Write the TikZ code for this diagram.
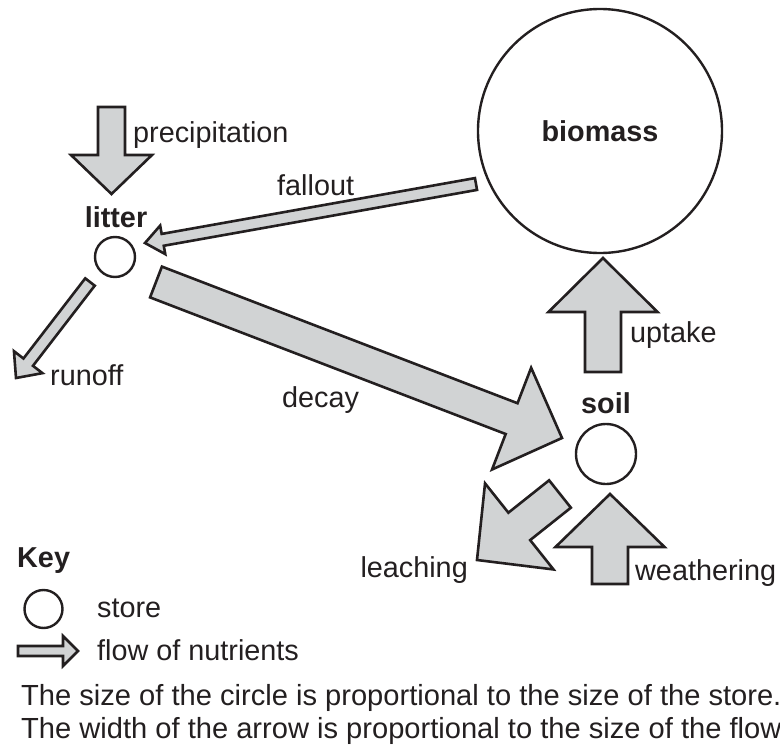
\documentclass[tikz,border=0pt]{standalone}
\usepackage{fontspec}
\setmainfont{Liberation Sans}
\usetikzlibrary{calc}
\definecolor{flowgray}{RGB}{209,211,212}
\definecolor{ink}{RGB}{35,31,32}
% #1 tail, #2 tip, #3 shaft half-width, #4 head half-width, #5 head length
\newcommand\flowarrow[5]{%
  \coordinate (fa-b) at ($(#2)!#5!(#1)$);
  \draw[flow] ($(#1)!#3!90:(#2)$) -- ($(fa-b)!#3!90:(#2)$) -- ($(fa-b)!#4!90:(#2)$)
    -- (#2) -- ($(fa-b)!#4!-90:(#2)$) -- ($(fa-b)!#3!-90:(#2)$) -- ($(#1)!#3!-90:(#2)$) -- cycle;}
\tikzset{
  flow/.style={draw=ink, fill=flowgray, line width=2.6pt, line join=miter},
  store/.style={circle, draw=ink, line width=2.4pt, inner sep=0pt, text=ink},
  lbl/.style={text=ink, inner sep=0pt, font=\fontsize{28.8}{34}\selectfont},
  blbl/.style={lbl, font=\fontsize{28.8}{34}\selectfont\bfseries},
  note/.style={text=ink, inner sep=0pt, font=\fontsize{29.1}{34}\selectfont},
}
\begin{document}
\begin{tikzpicture}[x=1pt, y=-1pt]
\useasboundingbox (0,0) rectangle (780,747);
% stores
\node[store, minimum size=40pt] (litter) at (115,257) {};
\node[store, minimum size=60pt] (soil) at (606,454) {};
\node[store, minimum size=244pt, font=\fontsize{28.8}{34}\selectfont\bfseries] (biomass) at (600,131) {biomass};
% arrow end points
\coordinate (precT) at (111.5,107);  \coordinate (precP) at (111.5,194);
\coordinate (fallT) at (476,184);    \coordinate (fallP) at (145,243);
\coordinate (runT) at (90,282);      \coordinate (runP) at (16,378);
\coordinate (decT) at (156,282);     \coordinate (decP) at (562,438);
\coordinate (upT) at (603,372);      \coordinate (upP) at (603,258);
\coordinate (weaT) at (610,584);     \coordinate (weaP) at (610,494);
\coordinate (leaT) at (560,494);     \coordinate (leaP) at (477,560);
\coordinate (keyT) at (18,651);      \coordinate (keyP) at (78,651);
% flows
\flowarrow{precT}{precP}{13.5pt}{40.5pt}{39pt}
\flowarrow{fallT}{fallP}{6pt}{14.5pt}{18pt}
\flowarrow{runT}{runP}{6pt}{18pt}{20pt}
\flowarrow{decT}{decP}{16.5pt}{54.5pt}{54pt}
\flowarrow{upT}{upP}{18pt}{54.5pt}{54pt}
\flowarrow{weaT}{weaP}{18pt}{54.5pt}{53pt}
\flowarrow{leaT}{leaP}{17.5pt}{55pt}{54pt}
% labels
\node[lbl, anchor=base west] (lprec) at (133,142) {precipitation};
\node[blbl, anchor=base] (llit) at (116,227) {litter};
\node[lbl, anchor=base west] (lfall) at (277,195) {fallout};
\node[lbl, anchor=base west] (lrun) at (50,385) {runoff};
\node[lbl, anchor=base west] (ldec) at (282,407) {decay};
\node[blbl, anchor=base] (lsoil) at (606,413) {soil};
\node[lbl, anchor=base west] (lup) at (630,342) {uptake};
\node[lbl, anchor=base west] (lwea) at (635,580) {weathering};
\node[lbl, anchor=base east] (llea) at (468,577) {leaching};
% key
\node[blbl, anchor=base west] (lkey) at (17,567) {Key};
\node[store, minimum size=38pt] (kstore) at (43.5,609) {};
\node[lbl, anchor=base west] (lstore) at (97,617) {store};
\flowarrow{keyT}{keyP}{5pt}{15pt}{15pt}
\node[lbl, anchor=base west] (lflow) at (97,660) {flow of nutrients};
\node[note, anchor=base west] (n1) at (21,705) {The size of the circle is proportional to the size of the store.};
\node[note, anchor=base west] (n2) at (21,738) {The width of the arrow is proportional to the size of the flow.};
\end{tikzpicture}
\end{document}
